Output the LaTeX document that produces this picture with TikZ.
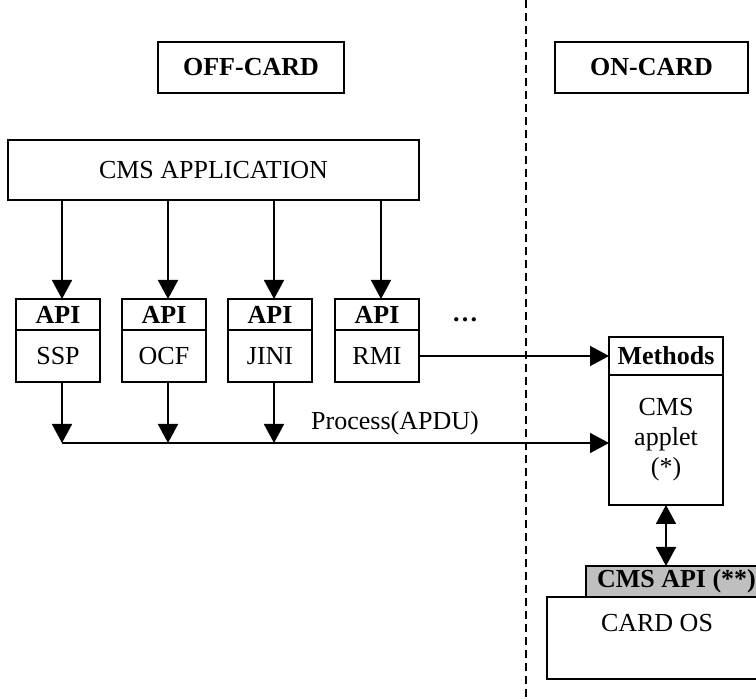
\documentclass[tikz,border=0pt]{standalone}
\usepackage{fontspec}
\setmainfont{Liberation Serif}
\usetikzlibrary{positioning,arrows.meta}

\begin{document}
\begin{tikzpicture}[x=1pt, y=-1pt,
    box/.style={draw, line width=1.7pt, inner sep=0pt, outer sep=0pt, align=center},
    head/.style={box, font=\fontsize{26}{30}\selectfont\bfseries},
    tip/.style={-{Triangle[width=20pt,length=19pt]}, line width=1.7pt},
    font=\fontsize{26}{30}\selectfont]
    \useasboundingbox (0,0) rectangle (756,700);
    \clip (0,0) rectangle (756,700);
    \draw[dash pattern=on 8pt off 5pt, line width=1.3pt] (526,0) -- (526,700);
    \node[head, minimum width=186, minimum height=51] (offcard) at (251,67.5) {OFF-CARD};
    \node[head, minimum width=193, minimum height=51] (oncard) at (651.5,67.5) {ON-CARD};
    \node[box, minimum width=411, minimum height=60] (app) at (213.5,170) {CMS APPLICATION};
    \foreach \cx/\lbl [count=\i] in {58/SSP,164/OCF,270/JINI,377/RMI}{
        \node[head, minimum width=84, minimum height=31] (hd\i) at (\cx,314.5) {API};
        \node[box, minimum width=84, minimum height=52, below=0pt of hd\i] (ap\i) {\lbl};
        \draw[tip] ([xshift=4pt]app.south -| hd\i) -- ([xshift=4pt]hd\i.north);
    }
    \node[font=\fontsize{26}{30}\selectfont\bfseries] (more) at (465,320) {\dots};
    \node[head, minimum width=114, minimum height=38] (meth) at (666,356) {Methods};
    \node[box, minimum width=114, minimum height=130, below=0pt of meth] (applet) {CMS\\applet\\(*)};
    \node[head, fill=black!25, inner xsep=11pt, minimum height=31, anchor=north west] (cmsapi) at (586,566) {CMS API (**)};
    \node[box, minimum width=220, minimum height=82, anchor=north west] (os) at (547,597) {CARD OS\\\mbox{}};
    \coordinate (bus) at (62,443);
    \foreach \i in {1,2,3}
        \draw[tip] ([xshift=4pt]ap\i.south) -- ([xshift=4pt]ap\i.south |- bus);
    \draw[tip] (bus) -- (bus -| applet.west);
    \draw[tip] (ap4.east) -- (meth.west);
    \node (apdu) at (395,423) {Process(APDU)};
    \draw[{Triangle[width=20pt,length=19pt]}-{Triangle[width=20pt,length=19pt]}, line width=1.7pt] (applet.south) -- (applet.south |- cmsapi.north);
\end{tikzpicture}
\end{document}
